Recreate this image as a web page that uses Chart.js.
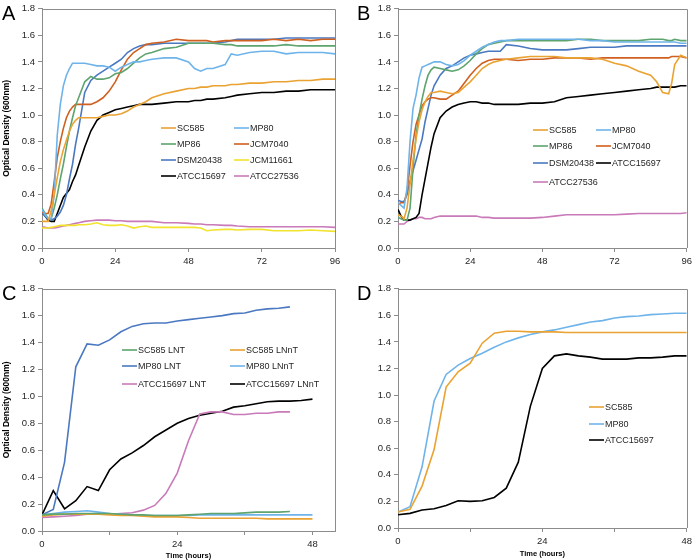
<!DOCTYPE html>
<html>
<head>
<meta charset="utf-8">
<script src="https://cdn.jsdelivr.net/npm/chart.js@4.4.1/dist/chart.umd.min.js"></script>
<style>
  html, body { margin: 0; padding: 0; background: #fff; }
  #wrap { position: relative; width: 696px; height: 560px; }
  .panel { position: absolute; }
  .tag { position: absolute; font: 20px 'Liberation Sans', Arial, sans-serif; line-height: 20px; color: #000; }
</style>
</head>
<body>
<div id="wrap">
  <canvas class="panel" id="chartA" width="346" height="280" style="left:0;top:0"></canvas>
  <canvas class="panel" id="chartB" width="350" height="280" style="left:346px;top:0"></canvas>
  <canvas class="panel" id="chartC" width="346" height="280" style="left:0;top:280px"></canvas>
  <canvas class="panel" id="chartD" width="350" height="280" style="left:346px;top:280px"></canvas>
  <div class="tag" style="left:2px;top:3px">A</div>
  <div class="tag" style="left:357px;top:3px">B</div>
  <div class="tag" style="left:2px;top:283px">C</div>
  <div class="tag" style="left:357px;top:283px">D</div>
</div>
<script>
// Time points (hours)
const hoursA = [0,1,2,3,4,5,6,7,8,9,10,11,12,14,16,18,20,22,24,26,28,30,32,34,36,40,44,48,50,52,54,56,60,62,64,68,72,76,80,84,88,92,96];
const hoursB = [0,1,2,3,4,5,6,7,8,9,10,11,12,14,16,18,20,22,24,26,28,30,32,34,36,40,44,48,52,56,60,64,68,72,76,80,84,86,88,90,91,92,94,96];
const hoursC = [0,2,4,6,8,10,12,14,16,18,20,22,24,26,28,30,32,34,36,38,40,42,44,46,48];
const hoursD = [0,2,4,6,8,10,12,14,16,18,20,22,24,26,28,30,32,34,36,38,40,42,44,46,48];

// Panel A - OD600
const a_SC585 = [0.20,0.20,0.20,0.28,0.40,0.53,0.65,0.74,0.81,0.88,0.93,0.96,0.98, 0.98,0.98,0.98,0.99,1.00,1.00,1.01,1.03,1.06,1.08,1.10,1.13, 1.16,1.18,1.20, 1.20,1.21,1.21,1.22, 1.22,1.23,1.23, 1.24,1.24,1.25,1.25,1.26,1.26,1.27,1.27];
const a_MP80 = [0.29,0.25,0.22,0.22,0.40,0.85,1.08,1.22,1.30,1.35,1.39,1.39,1.39, 1.39,1.38,1.37,1.37,1.36,1.33,1.36,1.38,1.40,1.40,1.41,1.42, 1.43,1.43,1.40, 1.35,1.33,1.35,1.35, 1.38,1.46,1.45, 1.47,1.48,1.48,1.46,1.47,1.47,1.47,1.46];
const a_MP86 = [0.30,0.26,0.22,0.22,0.30,0.40,0.52,0.63,0.76,0.88,0.98,1.07,1.13, 1.25,1.29,1.27,1.27,1.28,1.31,1.32,1.35,1.39,1.43,1.46,1.47, 1.50,1.51,1.54, 1.54,1.54,1.54,1.54, 1.53,1.53,1.52, 1.52,1.52,1.52,1.53,1.52,1.52,1.52,1.52];
const a_JCM7040 = [0.27,0.26,0.26,0.33,0.50,0.68,0.80,0.90,0.98,1.03,1.06,1.08,1.08, 1.08,1.08,1.10,1.13,1.18,1.25,1.34,1.42,1.47,1.50,1.53,1.54, 1.55,1.57,1.56, 1.56,1.56,1.56,1.55, 1.56,1.56,1.56, 1.56,1.56,1.57,1.56,1.57,1.56,1.57,1.57];
const a_DSM20438 = [0.27,0.24,0.22,0.21,0.22,0.24,0.27,0.32,0.40,0.52,0.63,0.78,0.90, 1.17,1.26,1.30,1.33,1.36,1.39,1.42,1.47,1.50,1.52,1.53,1.53, 1.54,1.54,1.54, 1.54,1.54,1.54,1.54, 1.55,1.56,1.57, 1.57,1.57,1.57,1.58,1.58,1.58,1.58,1.58];
const a_JCM11661 = [0.15,0.15,0.15,0.155,0.16,0.165,0.17,0.17,0.17,0.17,0.17,0.17,0.175, 0.175,0.18,0.19,0.175,0.17,0.17,0.175,0.165,0.15,0.16,0.165,0.155, 0.155,0.155,0.155, 0.155,0.15,0.13,0.135, 0.14,0.14,0.135, 0.14,0.14,0.13,0.13,0.13,0.135,0.13,0.125];
const a_ATCC15697 = [0.27,0.24,0.21,0.20,0.20,0.26,0.32,0.38,0.41,0.44,0.50,0.55,0.62, 0.76,0.88,0.96,1.00,1.02,1.04,1.05,1.06,1.07,1.08,1.08,1.08, 1.09,1.10,1.10, 1.11,1.11,1.12,1.12, 1.13,1.14,1.15, 1.16,1.17,1.17,1.18,1.18,1.19,1.19,1.19];
const a_ATCC27536 = [0.16,0.155,0.15,0.15,0.15,0.155,0.16,0.165,0.17,0.175,0.18,0.185,0.19, 0.20,0.205,0.21,0.21,0.21,0.205,0.205,0.20,0.20,0.20,0.20,0.20, 0.19,0.19,0.185, 0.18,0.18,0.175,0.175, 0.17,0.17,0.165, 0.16,0.16,0.16,0.16,0.16,0.16,0.16,0.155];

// Panel B - OD600
const b_SC585 = [0.25,0.24,0.22,0.30,0.48,0.66,0.82,0.95,1.04,1.10,1.14,1.17,1.17, 1.18,1.17,1.16,1.17,1.21,1.25,1.30,1.35,1.38,1.40,1.41,1.42, 1.43,1.44,1.44,1.44,1.43,1.43,1.43,1.42, 1.39,1.37,1.33,1.30, 1.25,1.17,1.16,1.24,1.38,1.45,1.43];
const b_MP80 = [0.34,0.32,0.30,0.45,0.80,1.05,1.15,1.28,1.36,1.37,1.38,1.39,1.40, 1.40,1.38,1.37,1.38,1.41,1.45,1.48,1.51,1.53,1.55,1.56,1.56, 1.57,1.57,1.57,1.57,1.57,1.57,1.56,1.56, 1.55,1.55,1.55,1.55, 1.55,1.55,1.55,1.55,1.55,1.54,1.54];
const b_MP86 = [0.23,0.22,0.21,0.21,0.30,0.60,0.85,1.00,1.12,1.22,1.30,1.34,1.36, 1.35,1.34,1.33,1.34,1.37,1.41,1.46,1.50,1.53,1.54,1.55,1.56, 1.56,1.56,1.56,1.56,1.56,1.57,1.57,1.56, 1.56,1.56,1.56,1.57, 1.57,1.57,1.56,1.56,1.57,1.56,1.56];
const b_JCM7040 = [0.33,0.34,0.34,0.42,0.62,0.80,0.93,1.00,1.07,1.10,1.12,1.13,1.13, 1.12,1.12,1.15,1.18,1.24,1.30,1.35,1.39,1.41,1.42,1.42,1.42, 1.41,1.42,1.42,1.43,1.43,1.43,1.42,1.43, 1.43,1.43,1.43,1.43, 1.43,1.43,1.43,1.44,1.44,1.44,1.43];
const b_DSM20438 = [0.36,0.35,0.35,0.40,0.50,0.58,0.66,0.74,0.82,0.95,1.05,1.15,1.22, 1.30,1.35,1.37,1.40,1.43,1.45,1.46,1.47,1.48,1.48,1.48,1.53, 1.52,1.50,1.49,1.49,1.49,1.50,1.51,1.51, 1.51,1.52,1.52,1.52, 1.52,1.52,1.52,1.52,1.52,1.52,1.52];
const b_ATCC15697 = [0.29,0.24,0.21,0.21,0.21,0.22,0.23,0.26,0.40,0.52,0.64,0.76,0.86, 0.98,1.03,1.06,1.08,1.09,1.10,1.10,1.09,1.09,1.08,1.08,1.08, 1.08,1.09,1.09,1.10,1.13,1.14,1.15,1.16, 1.17,1.18,1.19,1.20, 1.21,1.21,1.21,1.21,1.21,1.22,1.22];
const b_ATCC27536 = [0.18,0.18,0.18,0.20,0.21,0.22,0.22,0.23,0.23,0.22,0.22,0.22,0.23, 0.24,0.24,0.24,0.24,0.24,0.24,0.24,0.23,0.23,0.225,0.225,0.225, 0.225,0.225,0.23,0.24,0.25,0.25,0.25,0.25, 0.25,0.255,0.26,0.26, 0.26,0.26,0.26,0.26,0.26,0.26,0.265];

// Panel C - OD600 on LNT / LNnT
const c_SC585_LNT = [0.12,0.125,0.125,0.13,0.13,0.13,0.13,0.125,0.12,0.12,0.115,0.115,0.115,0.12,0.125,0.13,0.13,0.13,0.135,0.14,0.14,0.14,0.145,null,null];
const c_SC585_LNnT = [0.11,0.12,0.125,0.125,0.125,0.125,0.12,0.115,0.115,0.11,0.105,0.105,0.105,0.10,0.095,0.095,0.095,0.095,0.095,0.095,0.09,0.09,0.09,0.09,0.09];
const c_MP80_LNT = [0.12,0.16,0.51,1.22,1.39,1.38,1.42,1.48,1.52,1.54,1.545,1.545,1.56,1.57,1.58,1.59,1.60,1.615,1.62,1.64,1.65,1.655,1.665,null,null];
const c_MP80_LNnT = [0.12,0.13,0.14,0.145,0.15,0.14,0.13,0.125,0.12,0.115,0.115,0.115,0.115,0.115,0.12,0.12,0.12,0.12,0.12,0.12,0.12,0.12,0.12,0.12,0.12];
const c_ATCC15697_LNT = [0.10,0.105,0.11,0.115,0.125,0.125,0.125,0.13,0.135,0.155,0.19,0.28,0.43,0.67,0.87,0.885,0.885,0.865,0.865,0.875,0.875,0.885,0.885,null,null];
const c_ATCC15697_LNnT = [0.12,0.30,0.165,0.225,0.33,0.30,0.455,0.535,0.58,0.635,0.70,0.75,0.80,0.835,0.86,0.875,0.89,0.92,0.93,0.945,0.96,0.965,0.965,0.97,0.98];

// Panel D - OD600
const d_SC585 = [0.12,0.14,0.315,0.59,1.06,1.175,1.24,1.39,1.465,1.48,1.48,1.475,1.475,1.475,1.47,1.47,1.47,1.47,1.47,1.47,1.47,1.47,1.47,1.47,1.47];
const d_MP80 = [0.12,0.16,0.46,0.955,1.155,1.225,1.275,1.315,1.36,1.40,1.43,1.455,1.475,1.49,1.51,1.53,1.55,1.56,1.58,1.59,1.595,1.605,1.61,1.615,1.615];
const d_ATCC15697 = [0.10,0.11,0.135,0.145,0.17,0.205,0.20,0.205,0.23,0.30,0.495,0.915,1.20,1.295,1.31,1.295,1.285,1.27,1.27,1.27,1.28,1.28,1.285,1.295,1.295];

const yTicks = [0, 0.2, 0.4, 0.6, 0.8, 1.0, 1.2, 1.4, 1.6, 1.8];

// colores
const GOLD = '#EAA232', LBLUE = '#6EB4EA', GREEN = '#5DA46E', DORANGE = '#CF6020',
      BLUE = '#4A79C1', YELLOW = '#F2E32E', BLACK = '#000000', PINK = '#C97AB8';
const AXIS = '#8c8c8c';
const FONT = "'Liberation Sans', Arial, sans-serif";

Chart.defaults.font.family = FONT;
Chart.defaults.font.size = 9.5;
Chart.defaults.color = '#262626';

function pts(times, vals) {
  return vals.map((v, i) => ({ x: times[i], y: v }));
}
function ds(label, color, times, vals) {
  return { label: label, data: pts(times, vals), borderColor: color, backgroundColor: color };
}

/* Marco del area de trazado (arriba y derecha) */
const frame = {
  id: 'frame',
  afterDraw(chart) {
    const { ctx, chartArea: a } = chart;
    ctx.save();
    ctx.strokeStyle = AXIS;
    ctx.lineWidth = 1;
    ctx.beginPath();
    ctx.moveTo(a.left, Math.round(a.top) + 0.5);
    ctx.lineTo(Math.round(a.right) + 0.5, Math.round(a.top) + 0.5);
    ctx.lineTo(Math.round(a.right) + 0.5, a.bottom);
    ctx.stroke();
    ctx.restore();
  }
};

/* Leyenda dentro del grafico */
function legendAt(cols, rows) {
  return {
    id: 'inlegend',
    afterDatasetsDraw(chart) {
      const ctx = chart.ctx;
      ctx.save();
      ctx.font = '9px ' + FONT;
      ctx.textBaseline = 'middle';
      chart.data.datasets.forEach((d, i) => {
        const x = cols[i % cols.length];
        const y = rows[Math.floor(i / cols.length)];
        ctx.strokeStyle = d.borderColor;
        ctx.lineWidth = 1.6;
        ctx.beginPath();
        ctx.moveTo(x, y);
        ctx.lineTo(x + 15, y);
        ctx.stroke();
        ctx.fillStyle = '#262626';
        ctx.fillText(d.label, x + 16, y + 0.5);
      });
      ctx.restore();
    }
  };
}

function makeChart(id, cfg) {
  return new Chart(document.getElementById(id), {
    type: 'line',
    data: { datasets: cfg.datasets },
    options: {
      responsive: false,
      animation: false,
      layout: { padding: cfg.pad },
      elements: { point: { radius: 0 }, line: { borderWidth: 1.6, tension: 0 } },
      plugins: { legend: { display: false }, tooltip: { enabled: false } },
      scales: {
        x: {
          type: 'linear', min: 0, max: cfg.xMax,
          afterBuildTicks: s => { s.ticks = cfg.xTicks.map(v => ({ value: v })); },
          afterFit: s => { s.height = cfg.xh; },
          ticks: {
            padding: 4, color: '#262626',
            callback: v => (v % 24 === 0 ? String(v) : '')
          },
          grid: { drawOnChartArea: false, tickLength: 4, color: AXIS },
          border: { color: AXIS },
          title: {
            display: !!cfg.xTitle, text: cfg.xTitle || '', color: '#000',
            font: { size: 7.5, weight: 'bold' }, padding: { top: 0, bottom: cfg.xTitlePad || 0 }
          }
        },
        y: {
          min: 0, max: 1.8,
          afterBuildTicks: s => { s.ticks = yTicks.map(v => ({ value: v })); },
          afterFit: s => { s.width = cfg.yw; },
          ticks: { padding: 3, color: '#262626', callback: v => Number(v).toFixed(1) },
          grid: { drawOnChartArea: false, tickLength: 4, color: AXIS },
          border: { color: AXIS },
          title: {
            display: !!cfg.yTitle, text: cfg.yTitle || '', color: '#000',
            font: { size: 8.5, weight: 'bold' }, padding: { top: 2, bottom: 0 }
          }
        }
      }
    },
    plugins: [frame, legendAt(cfg.legCols, cfg.legRows)]
  });
}

makeChart('chartA', {
  datasets: [
    ds('SC585', GOLD, hoursA, a_SC585),
    ds('MP80', LBLUE, hoursA, a_MP80),
    ds('MP86', GREEN, hoursA, a_MP86),
    ds('JCM7040', DORANGE, hoursA, a_JCM7040),
    ds('DSM20438', BLUE, hoursA, a_DSM20438),
    ds('JCM11661', YELLOW, hoursA, a_JCM11661),
    ds('ATCC15697', BLACK, hoursA, a_ATCC15697),
    ds('ATCC27536', PINK, hoursA, a_ATCC27536)
  ],
  pad: { top: 6, right: 11, left: 0, bottom: 0 },
  yw: 42, xh: 32, xMax: 96, xTicks: [0, 24, 48, 72, 96],
  yTitle: 'Optical Density (600nm)',
  legCols: [161, 234], legRows: [128, 144, 160, 176]
});

makeChart('chartB', {
  datasets: [
    ds('SC585', GOLD, hoursB, b_SC585),
    ds('MP80', LBLUE, hoursB, b_MP80),
    ds('MP86', GREEN, hoursB, b_MP86),
    ds('JCM7040', DORANGE, hoursB, b_JCM7040),
    ds('DSM20438', BLUE, hoursB, b_DSM20438),
    ds('ATCC15697', BLACK, hoursB, b_ATCC15697),
    ds('ATCC27536', PINK, hoursB, b_ATCC27536)
  ],
  pad: { top: 6, right: 6, left: 0, bottom: 0 },
  yw: 52, xh: 32, xMax: 96, xTicks: [0, 24, 48, 72, 96],
  legCols: [187, 250], legRows: [130, 146, 163, 182]
});

makeChart('chartC', {
  datasets: [
    ds('SC585 LNT', GREEN, hoursC, c_SC585_LNT),
    ds('SC585 LNnT', GOLD, hoursC, c_SC585_LNnT),
    ds('MP80 LNT', BLUE, hoursC, c_MP80_LNT),
    ds('MP80 LNnT', LBLUE, hoursC, c_MP80_LNnT),
    ds('ATCC15697 LNT', PINK, hoursC, c_ATCC15697_LNT),
    ds('ATCC15697 LNnT', BLACK, hoursC, c_ATCC15697_LNnT)
  ],
  pad: { top: 8, right: 11, left: 0, bottom: 0 },
  yw: 42, xh: 29, xMax: 52, xTicks: [0, 12, 24, 36, 48],
  yTitle: 'Optical Density (600nm)', xTitle: 'Time (hours)', xTitlePad: 0,
  legCols: [122, 230], legRows: [70, 86, 104]
});

makeChart('chartD', {
  datasets: [
    ds('SC585', GOLD, hoursD, d_SC585),
    ds('MP80', LBLUE, hoursD, d_MP80),
    ds('ATCC15697', BLACK, hoursD, d_ATCC15697)
  ],
  pad: { top: 6, right: 6, left: 0, bottom: 0 },
  yw: 52, xh: 32, xMax: 48, xTicks: [0, 12, 24, 36, 48],
  xTitle: 'Time (hours)', xTitlePad: 2,
  legCols: [243], legRows: [127, 144, 160]
});
</script>
</body>
</html>
